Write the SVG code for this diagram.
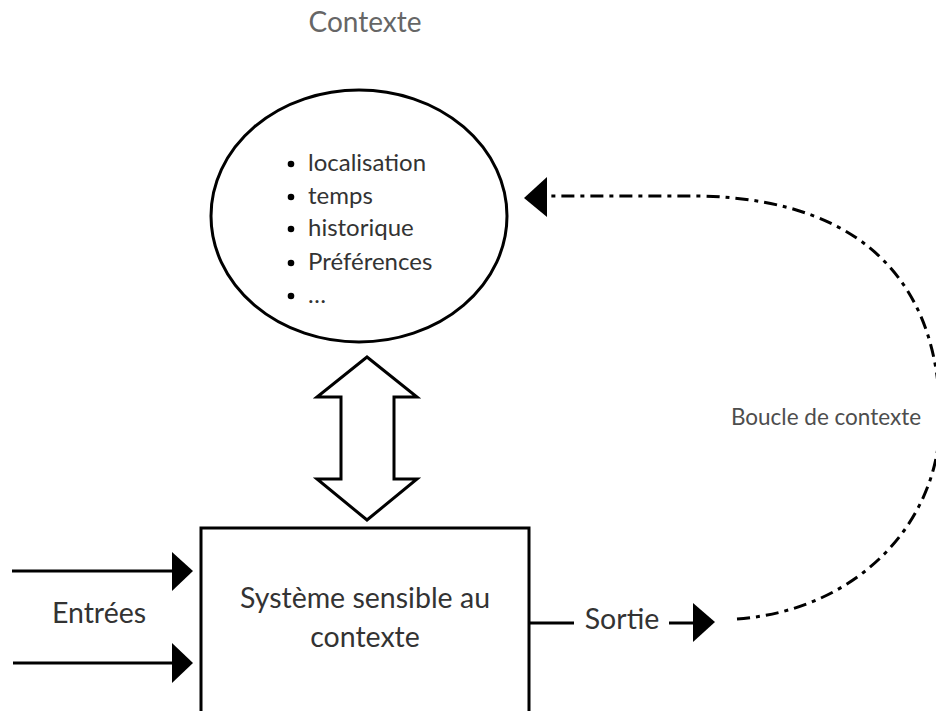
<svg xmlns="http://www.w3.org/2000/svg" width="936" height="711" viewBox="0 0 936 711">
<style>
text{font-family:Lato,"Liberation Sans",sans-serif;fill:#333}
.ln{fill:none;stroke:#000;stroke-width:3}
.hd{fill:#000;stroke:none}
.big{font-size:28.5px}
.bl{font-size:24px}
</style>
<rect width="936" height="711" fill="#fff"/>
<text x="365" y="32" font-size="28" text-anchor="middle" style="fill:#666">Contexte</text>
<g id="contexte">
<ellipse cx="359" cy="216" rx="148" ry="126" class="ln"/>
<circle cx="291" cy="164" r="3.3" class="hd"/><text class="bl" x="308" y="171">localisation</text>
<circle cx="291" cy="197" r="3.3" class="hd"/><text class="bl" x="308" y="204">temps</text>
<circle cx="291" cy="229" r="3.3" class="hd"/><text class="bl" x="308" y="236">historique</text>
<circle cx="291" cy="263" r="3.3" class="hd"/><text class="bl" x="308" y="270">Préférences</text>
<circle cx="291" cy="296" r="3.3" class="hd"/><text class="bl" x="308" y="303">…</text>
</g>
<g id="systeme">
<path d="M201 711 V528 H529 V711" class="ln"/>
<text class="big" x="365" y="608" text-anchor="middle">Système sensible au</text>
<text class="big" x="365" y="647" text-anchor="middle">contexte</text>
</g>
<g id="entrees">
<text class="big" x="99" y="623" text-anchor="middle">Entrées</text>
</g>
<g id="sortie">
<text class="big" x="622" y="629" text-anchor="middle">Sortie</text>
</g>
<g id="boucle">
<text x="826" y="425" font-size="22.5" text-anchor="middle" style="fill:#4d4d4d">Boucle de contexte</text>
</g>
<g id="connectors">
<path d="M367 357 L417 397 H394 V479 H417 L367 520 L317 479 H341 V397 H317 Z" fill="#fff" stroke="#000" stroke-width="3" stroke-linejoin="miter"/>
<line x1="12" y1="571" x2="174" y2="571" class="ln"/>
<path d="M172 552 L193 571 L172 591 Z" class="hd"/>
<line x1="13" y1="663" x2="174" y2="663" class="ln"/>
<path d="M172 643 L193 663 L172 683 Z" class="hd"/>
<line x1="529" y1="623" x2="574" y2="623" class="ln"/>
<line x1="669" y1="623" x2="695" y2="623" class="ln"/>
<path d="M693 603 L715 622 L693 642 Z" class="hd"/>
<path d="M737 619 C860 610 940 520 940 420 C940 300 880 200 700 196 L546 196" class="ln" stroke-dasharray="13 6 4 6"/>
<path d="M547 177 L524 198 L547 217 Z" class="hd"/>
</g>
</svg>
